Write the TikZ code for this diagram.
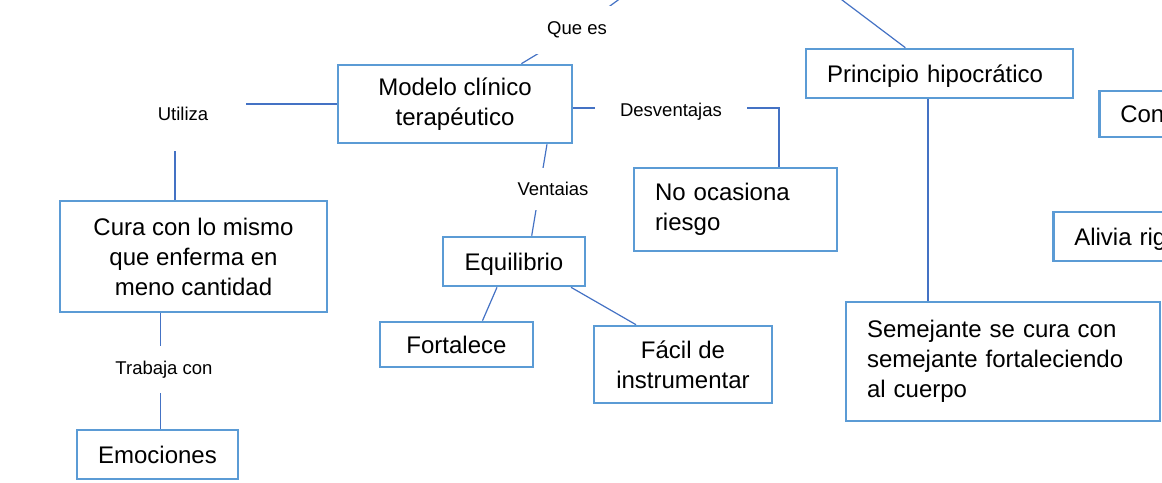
\documentclass[tikz,border=0pt]{standalone}
\usepackage{fontspec}
\setmainfont{Liberation Sans}
\usetikzlibrary{shapes}
\pgfdeclarelayer{background}
\pgfsetlayers{background,main}
\definecolor{borde}{HTML}{5B9BD5}
\definecolor{conector}{HTML}{4472C4}
\tikzstyle{concepto} = [rectangle, draw=borde, line width=2.6pt, align=center,
      inner sep=0pt, font=\fontsize{24}{30}\selectfont]
\tikzstyle{izquierda} = [concepto, align=left, inner xsep=21pt]
\tikzstyle{renglon} = [text height=22pt, text depth=5pt]
\tikzstyle{enlace} = [rectangle, fill=white, inner sep=0pt,
      font=\fontsize{18.5}{22}\selectfont]
\tikzstyle{linea} = [draw=conector, line width=1.2pt]
\begin{document}
\begin{tikzpicture}[x=1pt, y=-1pt]
  \useasboundingbox (0,0) rectangle (1162,482);
  \clip (0,0) rectangle (1162,482);
  % Nodes
  \coordinate (raiz) at (732,-83);
  \node [concepto, minimum width=234pt, minimum height=78pt] (modelo) at (455,104) {Modelo clínico\\terapéutico};
  \node [concepto, minimum width=267pt, minimum height=111pt] (cura) at (193.5,256.5) {Cura con lo mismo\\que enferma en\\meno cantidad};
  \node [concepto, renglon, minimum width=161pt, minimum height=49pt] (emociones) at (157.5,454.5) {Emociones};
  \node [izquierda, renglon, text width=225pt, minimum height=49pt] (principio) at (939.5,73.5) {Principio hipocrático};
  \node [izquierda, text width=161pt, minimum height=83pt] (riesgo) at (735.5,209.5) {No ocasiona\\riesgo};
  \node [concepto, renglon, minimum width=142pt, minimum height=49pt] (equilibrio) at (514,261.5) {Equilibrio};
  \node [concepto, renglon, minimum width=153pt, minimum height=45pt] (fortalece) at (456.5,344.5) {Fortalece};
  \node [concepto, minimum width=178pt, minimum height=77pt] (facil) at (683,364.5) {Fácil de\\instrumentar};
  \node [izquierda, text width=272pt, minimum height=119pt] (semejante) at (1003,361.5) {Semejante se cura con\\semejante fortaleciendo\\al cuerpo};
  \node [izquierda, renglon, text width=156pt, minimum height=49pt, anchor=west] (alivia) at (1052,236.5) {Alivia rig};
  \node [izquierda, renglon, text width=110pt, minimum height=46pt, anchor=west] (con) at (1098,114) {Con};
  % Enlaces
  \node [enlace, minimum width=90pt, minimum height=48pt] (quees) at (577,30) {Que es};
  \node [enlace, minimum width=126pt, minimum height=74pt] (utiliza) at (183,114) {Utiliza};
  \node [enlace, minimum width=152pt, minimum height=30pt] (desventajas) at (671,112) {Desventajas};
  \node [enlace, minimum width=80pt, minimum height=42pt] (ventajas) at (553,189) {Ventaias};
  \node [enlace, minimum width=100pt, minimum height=47pt] (trabaja) at (164,369.5) {Trabaja con};
  % Conectores
  \begin{pgfonlayer}{background}
    \path [linea] (raiz) -- (quees.center) -- (modelo);
    \path [linea] (raiz) -- (principio);
    \path [linea] (modelo.west) -| ([xshift=-18.5pt]cura.north);
    \path [linea] ([xshift=-33pt]cura.south) -- ([xshift=3pt]emociones.north);
    \path [linea] ([yshift=-4pt]modelo.east) -| ([xshift=43.5pt]riesgo.north);
    \path [linea] ([xshift=92pt]modelo.south) -- ([xshift=17.7pt]equilibrio.north);
    \path [linea] ([xshift=-17pt]equilibrio.south) -- ([xshift=26pt]fortalece.north);
    \path [linea] ([xshift=57pt]equilibrio.south) -- ([xshift=-47pt]facil.north);
    \path [linea] ([xshift=-11.5pt]principio.south) -- ([xshift=-75pt]semejante.north);
  \end{pgfonlayer}
\end{tikzpicture}
\end{document}
